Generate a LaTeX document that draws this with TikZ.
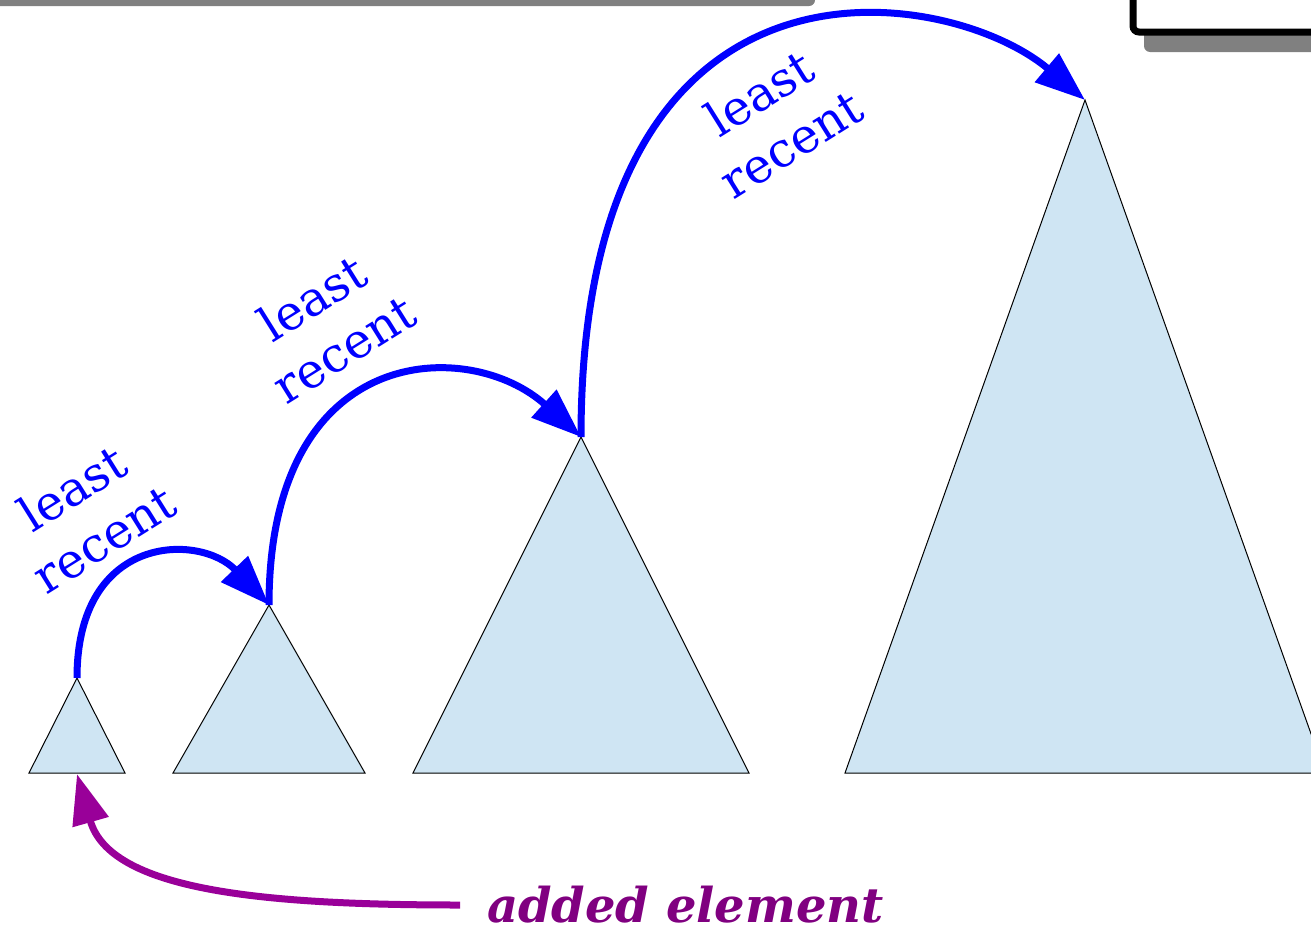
\documentclass[tikz,border=0pt]{standalone}
\usepackage{fontspec}
\setmainfont{DejaVu Serif}
\usetikzlibrary{arrows.meta}
\definecolor{heapfill}{HTML}{CFE5F3}
\definecolor{arcblue}{HTML}{0000FF}
\definecolor{addline}{HTML}{990099}
\definecolor{addtext}{HTML}{800080}
\definecolor{framegray}{HTML}{808080}

\begin{document}
\begin{tikzpicture}[x=0.5pt,y=-0.5pt,
    heap/.style={draw=black,line width=0.5pt,fill=heapfill},
    arc/.style={arcblue,line width=3.5pt,-{Triangle[length=25pt,width=18pt]}},
    addarc/.style={addline,line width=3.5pt,-{Triangle[length=25pt,width=18pt]}},
    lr/.style={arcblue,rotate=32,align=center,font=\fontsize{24}{30}\selectfont}]
  \useasboundingbox (0,0) rectangle (1311,926);
  \clip (0,0) rectangle (1311,926);
  % bits of the frame at the top
  \fill[framegray,rounded corners=3pt] (-20,-20) rectangle (815,6);
  \fill[framegray,rounded corners=3pt] (1144,-20) rectangle (1340,52);
  \draw[line width=3.5pt,fill=white,rounded corners=3pt] (1133,-30) rectangle (1340,32);
  % heaps
  \foreach \n/\l/\ax/\ay/\r in {1/29/77/678/125,2/173/269/605/365,3/413/581/437/749,4/845/1085/100/1325} {
    \draw[heap] (\l,773) -- (\ax,\ay) coordinate (apex\n) -- (\r,773) -- cycle;
  }
  \coordinate (base1) at (77,774);
  % least recent links
  \draw[arc] (apex1) .. controls +(0,-145) and +(-69,-72) .. (apex2);
  \draw[arc] (apex2) .. controls +(0,-265) and +(-111,-100) .. (apex3);
  \draw[arc] (apex3) .. controls +(0,-517) and +(-135,-114) .. (apex4);
  \node[lr] (lr1) at (88,513) {least\\recent};
  \node[lr] (lr2) at (328,323) {least\\recent};
  \node[lr] (lr3) at (775,118) {least\\recent};
  % new element
  \node[addtext,anchor=west,font=\bfseries\itshape\fontsize{24}{28}\selectfont] (added) at (480,905) {added element};
  \draw[addarc,shorten <=10pt] (added.west) .. controls +(-220,0) and +(33,116) .. (base1);
\end{tikzpicture}
\end{document}
